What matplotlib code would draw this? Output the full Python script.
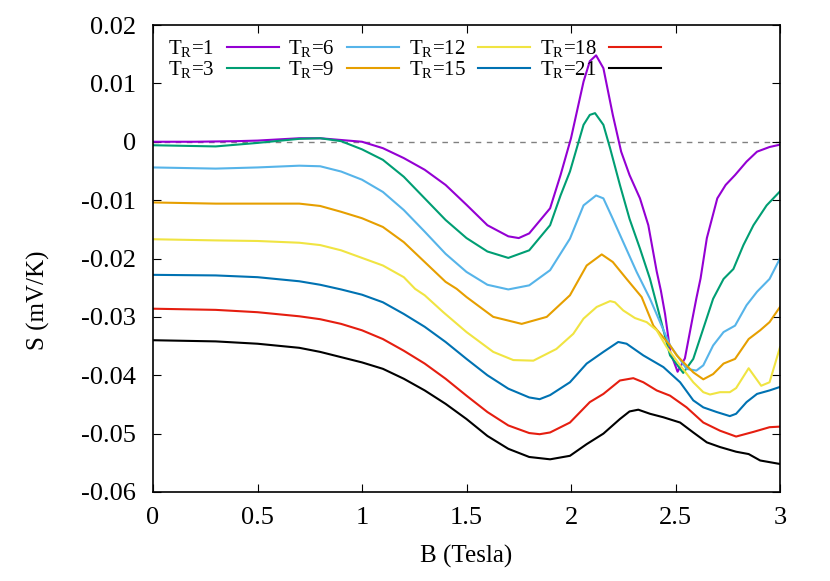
import matplotlib
matplotlib.use("Agg")
import matplotlib.pyplot as plt

plt.rcParams['font.family'] = ['Liberation Serif', 'DejaVu Serif']
plt.rcParams['mathtext.fontset'] = 'custom'
plt.rcParams['mathtext.rm'] = 'Liberation Serif'
plt.rcParams['mathtext.it'] = 'Liberation Serif:italic'
plt.rcParams['axes.unicode_minus'] = False

# ---- data ----
b_t1 = [0, 0.2, 0.4, 0.5, 0.6, 0.7, 0.8, 0.9, 1.0, 1.1, 1.2, 1.3, 1.4, 1.5, 1.6, 1.7, 1.75, 1.8, 1.9, 1.95,
        2.0, 2.06, 2.09, 2.12, 2.155, 2.2, 2.24, 2.28, 2.33, 2.37, 2.41, 2.43, 2.45, 2.475, 2.51, 2.545, 2.58,
        2.6, 2.62, 2.65, 2.7, 2.74, 2.785, 2.84, 2.89, 2.95, 3.0]
s_t1 = [0.0, 0.0, 0.0001, 0.0002, 0.0004, 0.0006, 0.0006, 0.0003, 0.0, -0.0011, -0.0028, -0.0048, -0.0074,
        -0.0108, -0.0143, -0.0162, -0.0165, -0.0157, -0.0114, -0.0057, 0.0006, 0.0103, 0.0138, 0.0148, 0.0126,
        0.0046, -0.0017, -0.0057, -0.0097, -0.0143, -0.0222, -0.0255, -0.0295, -0.036, -0.0394, -0.0371,
        -0.0305, -0.0268, -0.0234, -0.0165, -0.0097, -0.0074, -0.0057, -0.0034, -0.0017, -0.0009, -0.0005]

b_t3 = [0, 0.3, 0.5, 0.7, 0.8, 0.9, 1.0, 1.1, 1.2, 1.3, 1.4, 1.5, 1.6, 1.7, 1.8, 1.9, 1.95, 1.995, 2.06, 2.09,
        2.115, 2.155, 2.187, 2.234, 2.28, 2.33, 2.378, 2.474, 2.537, 2.585, 2.633, 2.68, 2.73, 2.777, 2.825,
        2.873, 2.936, 3.0]
s_t3 = [-0.0006, -0.0008, -0.0002, 0.0005, 0.0006, 0.0001, -0.0013, -0.0031, -0.006, -0.0097, -0.0134,
        -0.0165, -0.0188, -0.0199, -0.0186, -0.0143, -0.0092, -0.0051, 0.0029, 0.0046, 0.0049, 0.0029, -0.0011,
        -0.0074, -0.0132, -0.0183, -0.0235, -0.0366, -0.0396, -0.0372, -0.032, -0.0269, -0.0235, -0.0218,
        -0.0177, -0.0143, -0.0109, -0.0085]

b_t6 = [0, 0.3, 0.5, 0.7, 0.8, 0.9, 1.0, 1.1, 1.2, 1.3, 1.4, 1.5, 1.6, 1.7, 1.8, 1.9, 1.995, 2.06, 2.12, 2.155,
        2.2, 2.25, 2.314, 2.378, 2.474, 2.553, 2.6, 2.633, 2.68, 2.73, 2.785, 2.84, 2.89, 2.95, 3.0]
s_t6 = [-0.0044, -0.0046, -0.0044, -0.0041, -0.0042, -0.0051, -0.0065, -0.0086, -0.0117, -0.0154, -0.0192,
        -0.0223, -0.0245, -0.0253, -0.0246, -0.022, -0.0166, -0.0109, -0.0092, -0.0097, -0.0132, -0.0172,
        -0.0223, -0.0269, -0.0349, -0.0389, -0.0392, -0.0383, -0.0349, -0.0326, -0.0315, -0.028, -0.0257,
        -0.0235, -0.02]

b_t9 = [0, 0.3, 0.5, 0.7, 0.8, 0.9, 1.0, 1.1, 1.2, 1.3, 1.4, 1.453, 1.5, 1.628, 1.764, 1.884, 1.995, 2.075,
        2.147, 2.2, 2.266, 2.338, 2.394, 2.474, 2.506, 2.585, 2.633, 2.68, 2.73, 2.785, 2.85, 2.905, 2.95, 3.0]
s_t9 = [-0.0104, -0.0106, -0.0106, -0.0106, -0.011, -0.012, -0.0131, -0.0146, -0.0172, -0.0206, -0.024,
        -0.0252, -0.0266, -0.030, -0.0312, -0.030, -0.0263, -0.0212, -0.0193, -0.0206, -0.0235, -0.0266,
        -0.0315, -0.0349, -0.0366, -0.0395, -0.0407, -0.0398, -0.038, -0.0372, -0.0338, -0.0323, -0.0309,
        -0.0283]

b_t12 = [0, 0.3, 0.5, 0.7, 0.8, 0.9, 1.0, 1.1, 1.2, 1.254, 1.3, 1.389, 1.5, 1.628, 1.724, 1.82, 1.93, 2.011,
         2.06, 2.123, 2.187, 2.21, 2.25, 2.306, 2.362, 2.41, 2.458, 2.522, 2.585, 2.633, 2.665, 2.713, 2.76,
         2.79, 2.85, 2.91, 2.95, 3.0]
s_t12 = [-0.0167, -0.0169, -0.017, -0.0173, -0.0177, -0.0186, -0.0199, -0.0212, -0.0232, -0.0252, -0.0263,
         -0.0292, -0.0326, -0.036, -0.0374, -0.0375, -0.0355, -0.0329, -0.0303, -0.0283, -0.0273, -0.0275,
         -0.0289, -0.0302, -0.0309, -0.0323, -0.0352, -0.0383, -0.0412, -0.0429, -0.0433, -0.0429, -0.0429,
         -0.0422, -0.0388, -0.0418, -0.0412, -0.0352]

b_t15 = [0, 0.3, 0.5, 0.7, 0.8, 0.9, 1.0, 1.1, 1.2, 1.3, 1.4, 1.5, 1.6, 1.7, 1.8, 1.85, 1.9, 1.995, 2.075,
         2.155, 2.226, 2.266, 2.346, 2.442, 2.522, 2.585, 2.633, 2.697, 2.76, 2.79, 2.84, 2.89, 2.95, 3.0]
s_t15 = [-0.0228, -0.0229, -0.0232, -0.0239, -0.0245, -0.0253, -0.0262, -0.0275, -0.0295, -0.0317, -0.0343,
         -0.0372, -0.04, -0.0423, -0.0438, -0.0441, -0.0434, -0.0412, -0.038, -0.036, -0.0343, -0.0346,
         -0.0366, -0.0386, -0.0412, -0.0443, -0.0455, -0.0463, -0.047, -0.0466, -0.0446, -0.0432, -0.0426,
         -0.042]

b_t18 = [0, 0.3, 0.5, 0.7, 0.8, 0.9, 1.0, 1.1, 1.2, 1.3, 1.4, 1.5, 1.6, 1.7, 1.8, 1.85, 1.9, 1.995, 2.09,
         2.155, 2.234, 2.298, 2.346, 2.41, 2.474, 2.553, 2.633, 2.713, 2.79, 2.873, 2.95, 3.0]
s_t18 = [-0.0286, -0.0288, -0.0292, -0.0299, -0.0304, -0.0312, -0.0323, -0.0338, -0.0358, -0.038, -0.0406,
         -0.0435, -0.0463, -0.0486, -0.0499, -0.0501, -0.0498, -0.0481, -0.0446, -0.0432, -0.0409, -0.0405,
         -0.0412, -0.0426, -0.0435, -0.0455, -0.0481, -0.0495, -0.0505, -0.0497, -0.0489, -0.0488]

b_t21 = [0, 0.3, 0.5, 0.7, 0.8, 0.9, 1.0, 1.1, 1.2, 1.3, 1.4, 1.5, 1.6, 1.7, 1.8, 1.9, 1.995, 2.075, 2.155,
         2.234, 2.28, 2.322, 2.378, 2.442, 2.522, 2.585, 2.65, 2.713, 2.79, 2.85, 2.905, 3.0]
s_t21 = [-0.034, -0.0342, -0.0346, -0.0353, -0.036, -0.0369, -0.0378, -0.0389, -0.0406, -0.0426, -0.0449,
         -0.0475, -0.0504, -0.0526, -0.054, -0.0544, -0.0538, -0.0518, -0.05, -0.0475, -0.0462, -0.0459,
         -0.0466, -0.0472, -0.0481, -0.0498, -0.0515, -0.0523, -0.0531, -0.0535, -0.0546, -0.0552]

labels = [r'T$_\mathrm{R}$=1', r'T$_\mathrm{R}$=3', r'T$_\mathrm{R}$=6', r'T$_\mathrm{R}$=9',
          r'T$_\mathrm{R}$=12', r'T$_\mathrm{R}$=15', r'T$_\mathrm{R}$=18', r'T$_\mathrm{R}$=21']
colors = ['#9400D3', '#009E73', '#56B4E9', '#E69F00', '#F0E442', '#0072B2', '#E51E10', '#000000']

x_ticks = [0, 0.5, 1, 1.5, 2, 2.5, 3]
x_ticklabels = ['0', '0.5', '1', '1.5', '2', '2.5', '3']
y_ticks = [0.02, 0.01, 0, -0.01, -0.02, -0.03, -0.04, -0.05, -0.06]
y_ticklabels = ['0.02', '0.01', '0', '-0.01', '-0.02', '-0.03', '-0.04', '-0.05', '-0.06']

series = [(b_t1, s_t1), (b_t3, s_t3), (b_t6, s_t6), (b_t9, s_t9),
          (b_t12, s_t12), (b_t15, s_t15), (b_t18, s_t18), (b_t21, s_t21)]

fig = plt.figure(figsize=(8.3, 5.81), dpi=100)
ax = fig.add_axes([153/830, 1-492/581, (780-153)/830, (492-25)/581])

ax.axhline(0, color='#808080', lw=1.0, ls=(0, (4, 4)), zorder=1)
for (bx, sy), lab, c in zip(series, labels, colors):
    ax.plot(bx, sy, color=c, lw=1.5, label=lab, zorder=2)

ax.set_xlim(0, 3)
ax.set_ylim(-0.06, 0.02)
ax.set_xticks(x_ticks)
ax.set_xticklabels(x_ticklabels)
ax.set_yticks(y_ticks)
ax.set_yticklabels(y_ticklabels)
ax.tick_params(direction='in', length=6, width=0.8, top=True, right=True, labelsize=19, colors='black')
ax.tick_params(axis='y', pad=12)
ax.tick_params(axis='x', pad=11)
for sp in ax.spines.values():
    sp.set_linewidth(1.2)

ax.set_xlabel('B (Tesla)', fontsize=18)
ax.set_ylabel('S (mV/K)', fontsize=18)
ax.xaxis.set_label_coords(0.5, -0.113)
ax.yaxis.set_label_coords(-0.164, 0.41)

leg = ax.legend(ncol=4, loc='upper left', bbox_to_anchor=(0.0, 1.003), frameon=False, fontsize=15,
                markerfirst=False, handlelength=2.5, handletextpad=0.6, columnspacing=0.45,
                labelspacing=0.0, borderpad=0.2)

fig.savefig('out.png', dpi=100)
